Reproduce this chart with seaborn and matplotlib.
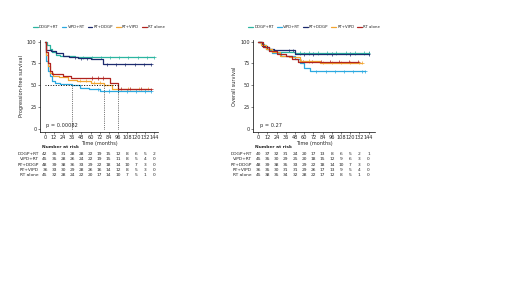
import numpy as np
import pandas as pd
import seaborn as sns
import matplotlib.pyplot as plt

## data
groups = ['DDGP+RT', 'VIPD+RT', 'RT+DDGP', 'RT+VIPD', 'RT alone']
colors = ['#2bb5a0', '#2aa8e0', '#1c2a6e', '#f2a531', '#b0231f']
risk_times = [0, 12, 24, 36, 48, 60, 72, 84, 96, 108, 120, 132, 144]

# progression-free survival: step times (months) and survival (%)
pfs_t = {
    'DDGP+RT': [0, 3, 6, 9, 14, 20, 28, 40, 144],
    'VIPD+RT': [0, 2, 4, 6, 9, 13, 20, 36, 46, 58, 72, 140],
    'RT+DDGP': [0, 2, 8, 15, 24, 32, 44, 60, 76, 140],
    'RT+VIPD': [0, 2, 4, 6, 10, 18, 30, 42, 60, 78, 88, 136],
    'RT alone': [0, 2, 4, 6, 9, 24, 34, 80, 86, 96, 140],
}
pfs_s = {
    'DDGP+RT': [100, 96, 92, 88, 85, 84, 83, 82, 82],
    'VIPD+RT': [100, 78, 66, 60, 55, 53, 51, 50, 47, 45, 43, 43],
    'RT+DDGP': [100, 91, 89, 87, 84, 82, 81, 80, 74, 74],
    'RT+VIPD': [100, 85, 72, 64, 61, 59, 56, 55, 53, 50, 46, 46],
    'RT alone': [100, 88, 75, 66, 63, 61, 58, 58, 53, 46, 45, 45],
}
pfs_cens = {
    'DDGP+RT': [50, 62, 74, 86, 98, 110, 122, 134, 144],
    'VIPD+RT': [70, 84, 96, 108, 120, 132, 140],
    'RT+DDGP': [40, 48, 56, 82, 94, 106, 118, 130, 140],
    'RT+VIPD': [46, 54, 64, 72, 96, 110, 124, 136],
    'RT alone': [62, 70, 76, 100, 112, 126, 140],
}
pfs_medians = [36, 78, 96]

# overall survival
os_t = {
    'DDGP+RT': [0, 4, 8, 14, 22, 48, 144],
    'VIPD+RT': [0, 5, 10, 18, 30, 48, 54, 60, 68, 140],
    'RT+DDGP': [0, 5, 12, 20, 48, 144],
    'RT+VIPD': [0, 4, 10, 18, 28, 40, 54, 80, 136],
    'RT alone': [0, 6, 14, 24, 36, 44, 52, 130],
}
os_s = {
    'DDGP+RT': [100, 97, 94, 91, 88, 87, 87],
    'VIPD+RT': [100, 96, 92, 87, 84, 80, 75, 70, 66, 66],
    'RT+DDGP': [100, 95, 92, 90, 86, 86],
    'RT+VIPD': [100, 96, 92, 88, 84, 82, 78, 76, 76],
    'RT alone': [100, 94, 89, 86, 83, 80, 77, 77],
}
os_cens = {
    'DDGP+RT': [54, 66, 78, 90, 102, 114, 126, 138, 144],
    'VIPD+RT': [76, 88, 100, 112, 124, 136, 140],
    'RT+DDGP': [40, 46, 60, 72, 96, 120, 144],
    'RT+VIPD': [56, 66, 84, 96, 108, 120, 132, 136],
    'RT alone': [58, 70, 82, 94, 106, 118, 130],
}

pfs_risk = {
    'DDGP+RT': [42, 35, 31, 28, 28, 22, 19, 15, 12, 8, 6, 5, 2],
    'VIPD+RT': [45, 35, 28, 26, 24, 22, 19, 15, 11, 8, 5, 4, 0],
    'RT+DDGP': [48, 39, 38, 36, 33, 29, 22, 18, 14, 10, 7, 3, 0],
    'RT+VIPD': [36, 33, 30, 29, 28, 26, 16, 14, 12, 8, 5, 3, 0],
    'RT alone': [45, 32, 28, 24, 22, 20, 17, 14, 10, 7, 5, 1, 0],
}
os_risk = {
    'DDGP+RT': [40, 37, 32, 31, 24, 20, 17, 13, 8, 6, 5, 2, 1],
    'VIPD+RT': [45, 35, 30, 29, 25, 20, 18, 15, 12, 9, 6, 3, 0],
    'RT+DDGP': [48, 39, 38, 35, 33, 29, 22, 18, 14, 10, 7, 3, 0],
    'RT+VIPD': [36, 35, 30, 31, 31, 29, 26, 17, 13, 9, 5, 4, 0],
    'RT alone': [45, 38, 35, 34, 32, 28, 22, 17, 12, 8, 5, 1, 0],
}

sns.set_theme(style='white')
plt.rcParams['font.family'] = ['DejaVu Sans']
palette = dict(zip(groups, colors))
FS = 3.6


def long_df(times, surv):
    rows = []
    for g in groups:
        for t, s in zip(times[g], surv[g]):
            rows.append({'time': t, 'surv': s, 'group': g})
    return pd.DataFrame(rows)


def cens_df(times, surv, cens):
    rows = []
    for g in groups:
        tt = np.array(times[g])
        ss = np.array(surv[g])
        for c in cens[g]:
            idx = np.searchsorted(tt, c, side='right') - 1
            rows.append({'time': c, 'surv': ss[idx], 'group': g})
    return pd.DataFrame(rows)


def km_panel(fig, rect, times, surv, cens, risk, ylabel, ptext, xmax):
    ax = fig.add_axes(rect)
    sns.lineplot(data=long_df(times, surv), x='time', y='surv', hue='group',
                 hue_order=groups, palette=palette, estimator=None,
                 drawstyle='steps-post', linewidth=0.9, ax=ax)
    sns.scatterplot(data=cens_df(times, surv, cens), x='time', y='surv',
                    hue='group', hue_order=groups, palette=palette,
                    marker='+', s=6, linewidth=0.5, legend=False, ax=ax)
    ax.set_xlim(-6.5, xmax)
    ax.set_ylim(-4, 102)
    ax.set_xticks(risk_times)
    ax.set_yticks([0, 25, 50, 75, 100])
    ax.tick_params(labelsize=FS, length=1.5, width=0.4, pad=1, left=True, bottom=True)
    for sp in ['top', 'right']:
        ax.spines[sp].set_visible(False)
    for sp in ['left', 'bottom']:
        ax.spines[sp].set_linewidth(0.5)
        ax.spines[sp].set_color('black')
    ax.set_xlabel('Time (months)', fontsize=FS, labelpad=0.5)
    ax.set_ylabel(ylabel, fontsize=FS, labelpad=2)
    ax.text(2, 2, ptext, fontsize=FS)
    handles, labels = ax.get_legend_handles_labels()
    ax.legend(handles, labels, loc='lower center', bbox_to_anchor=(0.5, 1.08),
              ncol=5, fontsize=2.8, frameon=False, handlelength=1.2,
              columnspacing=0.8, handletextpad=0.3)

    # risk table
    tab = fig.add_axes([rect[0], 0.39, rect[2], 0.11])
    tab.set_xlim(ax.get_xlim())
    tab.set_ylim(len(groups) - 0.5, -1.5)
    tab.axis('off')
    tab.text(-4, -1.2, 'Number at risk', fontsize=FS - 0.4, weight='bold')
    for i, g in enumerate(groups):
        tab.text(-8, i, g, fontsize=FS - 0.4, ha='right', va='center')
        for t, n in zip(risk_times, risk[g]):
            tab.text(t, i, str(n), fontsize=FS - 0.4, ha='center', va='center')
    return ax


fig = plt.figure(figsize=(5.2, 2.92), dpi=100)

ax1 = km_panel(fig, [0.077, 0.548, 0.227, 0.315], pfs_t, pfs_s, pfs_cens,
               pfs_risk, 'Progression-free survival', 'p = 0.00082', 149)
# median lines
ax1.plot([0, max(pfs_medians)], [50, 50], ls=':', color='black', lw=0.7)
for m in pfs_medians:
    ax1.plot([m, m], [0, 50], ls=':', color='black', lw=0.5)

ax2 = km_panel(fig, [0.487, 0.548, 0.235, 0.315], os_t, os_s, os_cens,
               os_risk, 'Overall survival', 'p = 0.27', 153)

fig.savefig('out.png', dpi=100)
